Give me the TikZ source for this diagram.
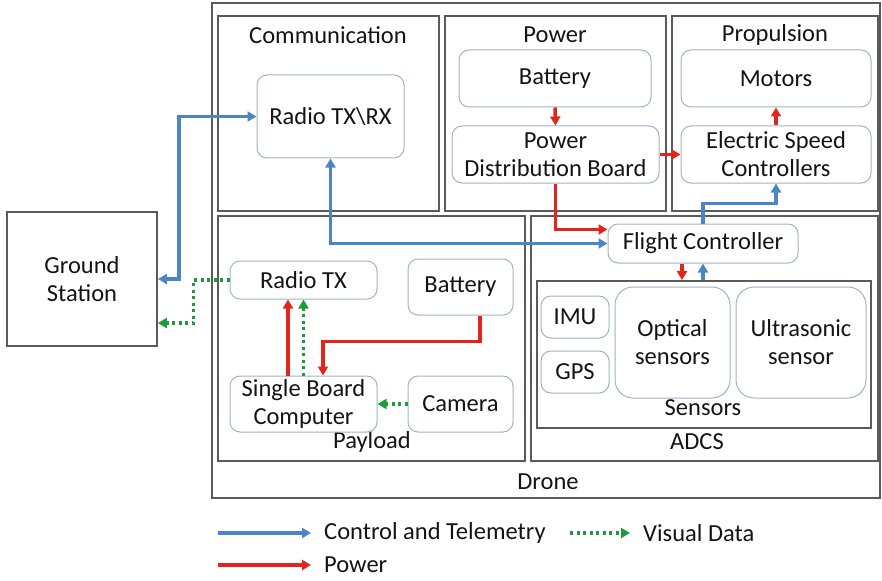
\documentclass[tikz,border=0pt]{standalone}
\usepackage{fontspec}
\setmainfont{Carlito}
\usetikzlibrary{arrows.meta,calc}
\definecolor{ctlblue}{HTML}{4A86C6}
\definecolor{pwrred}{HTML}{E2241B}
\definecolor{visgreen}{HTML}{1E9A3C}
\definecolor{framegray}{HTML}{5A5A5A}
\definecolor{nodeedge}{HTML}{9DB4C4}
\definecolor{inktext}{HTML}{141414}
\tikzset{
  every node/.style={text=inktext, font=\fontsize{24.5}{28}\selectfont},
  frame/.style={draw=framegray, line width=1.8pt, inner sep=0pt},
  unit/.style={draw=nodeedge, line width=1pt, rounded corners=10pt, align=center,
    inner sep=0pt, anchor=center},
  label/.style={inner sep=0pt, anchor=center},
  tip/.style={-{Triangle[length=9pt,width=10pt]}},
  biTip/.style={{Triangle[length=9pt,width=10pt]}-{Triangle[length=9pt,width=10pt]}},
  ctl/.style={draw=ctlblue, line width=3.5pt},
  pwr/.style={draw=pwrred, line width=3.5pt},
  vis/.style={draw=visgreen, line width=3.5pt, dash pattern=on 3pt off 3.5pt},
  vistip/.style={-{Triangle[length=9pt,width=10pt,fill=visgreen]}},
}
\begin{document}
\begin{tikzpicture}[x=1pt,y=-1pt]
\useasboundingbox (0,0) rectangle (882,580);

% containers
\draw[frame] (212,3) rectangle (880,498);
\draw[frame] (218,16) rectangle (439,211);
\draw[frame] (445,16) rectangle (666,211);
\draw[frame] (672,16) rectangle (878,211);
\draw[frame] (218,216) rectangle (525,461);
\draw[frame] (531,216) rectangle (878,461);
\node[frame, minimum width=334pt, minimum height=147pt] (sensbox) at (704,354.5) {};

\node[label] (tcomm) at (328,35) {Communication};
\node[label] (tpower) at (555,35) {Power};
\node[label] (tprop) at (775,35) {Propulsion};
\node[label] (tpay) at (372,442) {Payload};
\node[label] (tadcs) at (697,442) {ADCS};
\node[label] (tsens) at (703,408) {Sensors};
\node[label] (tdrone) at (548,482) {Drone};

% ground station
\node[draw=framegray, line width=1.8pt, minimum width=150pt, minimum height=134pt,
      align=center, inner sep=0pt] (gs) at (82,279) {Ground\\Station};

% units
\node[unit, minimum width=147pt, minimum height=83pt] (rtxrx) at (330.5,116.5) {Radio TX\textbackslash RX};
\node[unit, minimum width=192pt, minimum height=57pt] (bat) at (555,78.5) {Battery};
\node[unit, minimum width=207pt, minimum height=57pt] (pdb) at (555.5,154.5) {Power\\Distribution Board};
\node[unit, minimum width=190pt, minimum height=57pt] (mot) at (776,78.5) {Motors};
\node[unit, minimum width=190pt, minimum height=57pt] (esc) at (776,154.5) {Electric Speed\\Controllers};
\node[unit, minimum width=190pt, minimum height=39pt] (fc) at (703,243.5) {Flight Controller};
\node[unit, minimum width=68pt, minimum height=42pt] (imu) at (575,317) {IMU};
\node[unit, minimum width=68pt, minimum height=42pt] (gps) at (575,372) {GPS};
\node[unit, minimum width=115pt, minimum height=111pt, rounded corners=18pt] (opt) at (672.5,342.5) {Optical\\sensors};
\node[unit, minimum width=130pt, minimum height=111pt, rounded corners=18pt] (ult) at (801,342.5) {Ultrasonic\\sensor};
\node[unit, minimum width=147pt, minimum height=38pt] (rtx) at (303.5,280) {Radio TX};
\node[unit, minimum width=105pt, minimum height=56pt] (pbat) at (460.5,287) {Battery};
\node[unit, minimum width=147pt, minimum height=56pt] (sbc) at (303.5,404) {Single Board\\Computer};
\node[unit, minimum width=105pt, minimum height=56pt] (cam) at (460.5,404) {Camera};

% links
\draw[ctl, biTip] (gs.east) -- ++(21,0) |- (rtxrx.west);
\draw[ctl, biTip] (rtxrx.south) |- (fc.west);
\draw[pwr, tip] (pdb.south) |- ([yshift=14pt]fc.west);
\draw[pwr, tip] (bat.south) -- (pdb.north);
\draw[pwr, tip] (pdb.east) -- (esc.west);
\draw[pwr, tip] (esc.north) -- (mot.south);
\draw[ctl, tip] (fc.north) -- ++(0,-20) -| (esc.south);
\draw[pwr, tip] ([xshift=-21pt]fc.south) -- ([xshift=-21pt]fc.south |- sensbox.north);
\draw[ctl, tip] (fc.south |- sensbox.north) -- (fc.south);

\draw[pwr, tip] ([xshift=19.5pt]pbat.south) -- ++(0,26) -| ([xshift=19.5pt]sbc.north);
\draw[pwr, tip] ([xshift=-15.5pt]sbc.north) -- ([xshift=-15.5pt]rtx.south);
\draw[vis, vistip] (sbc.north) -- (rtx.south);
\draw[vis, vistip] (cam.west) -- (sbc.east);
\draw[vis, vistip] (rtx.west) -- ++(-36,0) |- ([yshift=-44pt]gs.east);

% legend
\coordinate (lc0) at (218,533);
\coordinate (lc1) at (311,533);
\coordinate (lp0) at (218,565);
\coordinate (lp1) at (311,565);
\coordinate (lv0) at (570,533);
\coordinate (lv1) at (630,533);
\draw[ctl, tip] (lc0) -- (lc1);
\draw[pwr, tip] (lp0) -- (lp1);
\draw[vis, vistip] (lv0) -- (lv1);
\node[anchor=west, inner sep=0pt] (lct) at (324,533) {Control and Telemetry};
\node[anchor=west, inner sep=0pt] (lpt) at (324,565) {Power};
\node[anchor=west, inner sep=0pt] (lvt) at (643,533) {Visual Data};
\end{tikzpicture}
\end{document}
